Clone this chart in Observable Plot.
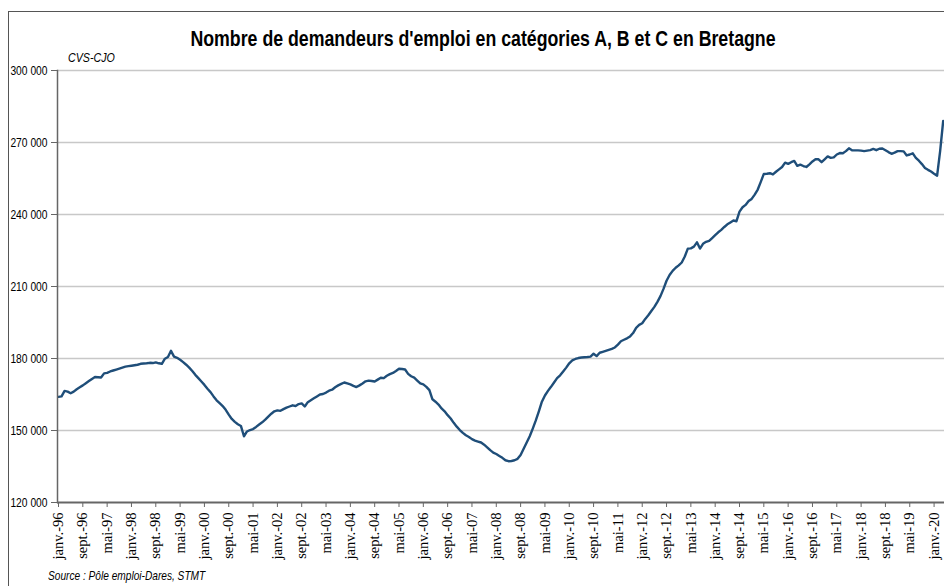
<!DOCTYPE html>
<html><head><meta charset="utf-8">
<script src="https://cdn.jsdelivr.net/npm/d3@7"></script>
<script src="https://cdn.jsdelivr.net/npm/@observablehq/plot@0.6"></script>
<style>
html,body{margin:0;padding:0;background:#fff;}
#wrap{position:relative;width:944px;height:586px;overflow:hidden;background:#fff;}
#frame{position:absolute;left:8px;top:11px;width:1000px;height:1000px;border:1px solid #555;box-sizing:border-box;}
#chart{position:absolute;left:0;top:0;}
.t{position:absolute;white-space:nowrap;line-height:1;color:#000;font-family:"Liberation Sans",Arial,sans-serif;}
#title{left:0;width:966px;top:28.5px;text-align:center;font-weight:bold;font-size:21.5px;transform:scaleX(0.825);transform-origin:483px 50%;}
#sub{left:68px;top:51px;font-style:italic;font-size:13px;transform:scaleX(0.82);transform-origin:0 50%;}
#src{left:48px;top:569px;font-style:italic;font-size:13px;transform:scaleX(0.78);transform-origin:0 50%;}
</style></head>
<body>
<div id="wrap">
  <div id="frame"></div>
  <div id="chart"></div>
  <div class="t" id="title">Nombre de demandeurs d'emploi en catégories A, B et C en Bretagne</div>
  <div class="t" id="sub">CVS-CJO</div>
  <div class="t" id="src">Source : Pôle emploi-Dares, STMT</div>
</div>
<script>
// Monthly values (thousands), janv. 1996 -> avr. 2020
const values1996_1999 = [
  164.0,164.2,166.5,166.2,165.5,166.2,167.2,168.0,168.8,169.7,170.6,171.5,
  172.3,172.2,172.1,173.8,174.0,174.6,175.0,175.4,175.8,176.2,176.6,176.8,
  177.0,177.2,177.4,177.8,177.9,178.0,178.2,178.1,178.4,178.0,177.8,179.9,
  180.6,183.2,180.8,180.3,179.5,178.5,177.4,176.2,174.8,173.2,171.8,170.4
];
const values2000_2003 = [
  169.0,167.4,166.0,164.2,162.6,161.4,160.2,158.6,156.6,154.8,153.6,152.6,
  151.9,147.6,149.6,150.2,150.6,151.5,152.5,153.4,154.5,155.8,157.0,158.0,
  158.4,158.2,158.9,159.5,160.0,160.5,160.2,161.0,161.3,160.0,161.8,162.6,
  163.4,164.2,165.0,165.2,165.8,166.6,167.0,168.0,168.8,169.4,170.0,169.6
];
const values2004_2007 = [
  169.2,168.6,168.1,168.8,169.6,170.5,170.8,170.6,170.4,171.2,172.0,171.8,
  172.8,173.5,174.0,174.8,175.7,175.6,175.4,173.6,172.6,172.0,170.8,169.6,
  169.2,168.2,166.8,163.0,162.0,160.8,159.2,158.0,156.4,155.0,153.2,151.6,
  150.2,149.0,148.0,147.3,146.4,145.8,145.4,145.0,144.1,143.0,141.8,140.8
];
const values2008_2011 = [
  140.2,139.4,138.6,137.6,137.2,137.3,137.6,138.2,139.8,142.4,145.0,147.6,
  150.8,154.2,158.0,162.0,164.6,166.5,168.2,170.0,171.8,173.0,174.6,176.2,
  178.0,179.2,179.8,180.2,180.4,180.5,180.6,180.8,182.0,181.0,182.4,182.8,
  183.2,183.6,184.0,184.6,185.8,187.2,187.8,188.4,189.2,190.6,192.8,194.0
];
const values2012_2015 = [
  194.7,196.5,198.0,199.8,201.5,203.6,206.0,209.0,212.4,214.8,216.5,217.8,
  218.8,220.0,222.5,225.8,225.9,226.6,228.4,225.8,227.8,228.6,229.0,230.2,
  231.4,232.6,233.6,234.8,235.9,236.7,237.5,237.2,241.2,243.0,244.0,245.6,
  246.5,248.3,250.4,253.6,256.9,257.0,257.2,256.7,257.8,258.8,259.8,261.6
];
const values2016_2020 = [
  261.1,261.8,262.3,260.3,260.8,260.2,259.8,260.9,262.1,263.0,263.0,261.8,
  263.0,264.2,263.6,263.8,265.0,265.6,265.5,266.4,267.6,266.8,266.7,266.7,
  266.6,266.4,266.6,266.8,267.3,266.8,267.4,267.5,266.8,266.0,265.3,265.8,
  266.4,266.4,266.3,264.6,265.0,265.5,263.6,262.4,261.0,259.4,258.6,257.9,
  257.0,256.2,266.5,279.0
];
const yTicks = [120, 150, 180, 210, 240, 270, 300];
const xTickLabels = [
  "janv.-96","sept.-96","mai-97","janv.-98","sept.-98","mai-99","janv.-00","sept.-00","mai-01",
  "janv.-02","sept.-02","mai-03","janv.-04","sept.-04","mai-05","janv.-06","sept.-06","mai-07",
  "janv.-08","sept.-08","mai-09","janv.-10","sept.-10","mai-11","janv.-12","sept.-12","mai-13",
  "janv.-14","sept.-14","mai-15","janv.-16","sept.-16","mai-17","janv.-18","sept.-18","mai-19","janv.-20"
];
const tickStep = 8; // months between labels

const series = [].concat(values1996_1999, values2000_2003, values2004_2007, values2008_2011, values2012_2015, values2016_2020);
const data = series.map((v, i) => ({m: i, v}));
const xTicks = xTickLabels.map((_, i) => i * tickStep);
const labelOf = new Map(xTicks.map((t, i) => [t, xTickLabels[i]]));

const chart = Plot.plot({
  width: 944,
  height: 586,
  marginLeft: 57,
  marginRight: 0,
  marginTop: 70,
  marginBottom: 84,
  style: {fontFamily: '"Liberation Sans",Arial,sans-serif', background: "transparent", overflow: "visible"},
  x: {type: "linear", domain: [0, series.length - 1], range: [58, 942.7]},
  y: {domain: [120, 300]},
  marks: [
    Plot.ruleY(yTicks.filter(d => d > 120), {stroke: "#c8c8c8", strokeWidth: 1.5}),
    Plot.line(data, {x: "m", y: "v", stroke: "#1f4e79", strokeWidth: 2.4, strokeLinejoin: "round"}),
    Plot.ruleY([120], {stroke: "#666", strokeWidth: 2}),
    Plot.frame({anchor: "left", stroke: "#666", strokeWidth: 1.5}),
    Plot.axisY({ticks: yTicks, tickFormat: d => d + " 000", tickSize: 6, tickPadding: 4, fontSize: 12.5, stroke: "#666", fill: "#000", label: null}),
    Plot.axisX({ticks: xTicks, tickFormat: d => labelOf.get(d), tickSize: 5, tickPadding: 5, tickRotate: -90, fontSize: 14.5, fontFamily: '"Liberation Serif","Times New Roman",serif', stroke: "#666", fill: "#000", label: null})
  ]
});
document.getElementById("chart").appendChild(chart);
// condense the y tick labels to mimic a narrow sans face
chart.querySelectorAll('g[aria-label="y-axis tick label"] text').forEach(t => {
  const w = t.getComputedTextLength();
  t.setAttribute("textLength", (w * 0.82).toFixed(1));
  t.setAttribute("lengthAdjust", "spacingAndGlyphs");
});
</script>
</body></html>
